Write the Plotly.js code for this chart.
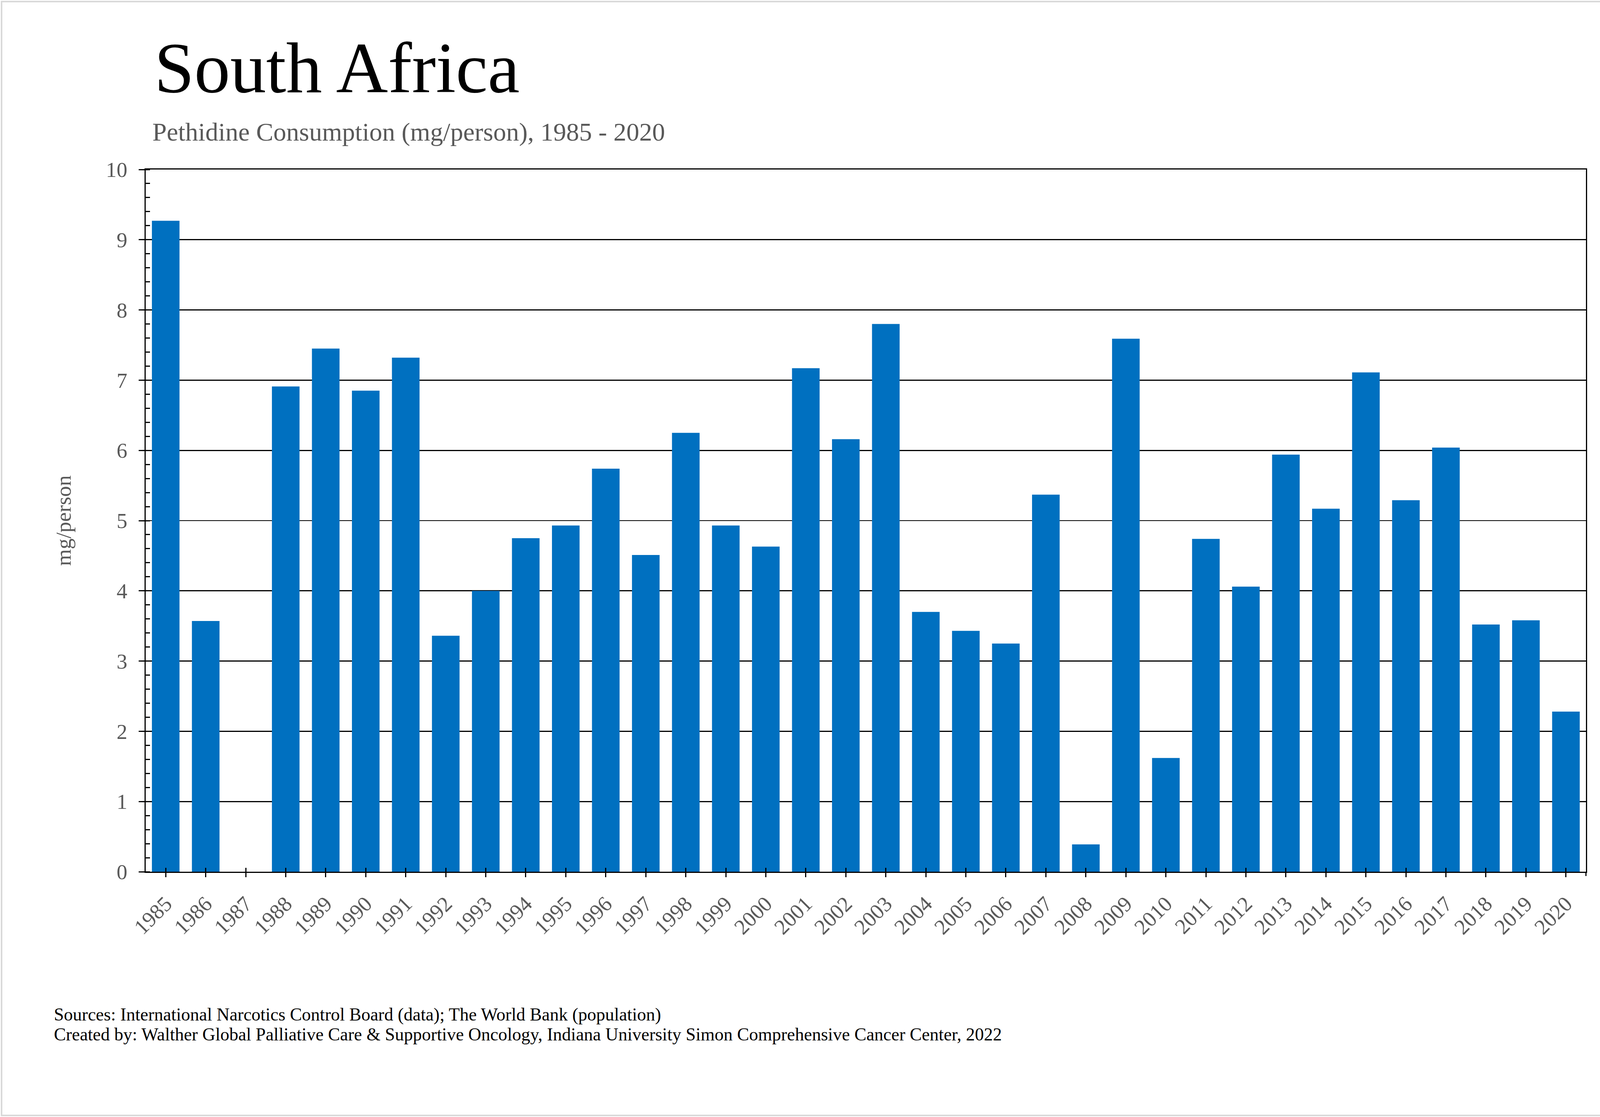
<!DOCTYPE html>
<html>
<head>
<meta charset="utf-8">
<script src="https://cdn.plot.ly/plotly-3.0.1.min.js"></script>
<style>
  html, body { margin: 0; padding: 0; background: #ffffff; }
  #wrap { position: relative; width: 4216px; height: 2860px; }
  #chart { position: absolute; left: 0; top: 0; width: 4216px; height: 2860px; }
  #frame { position: absolute; left: 2px; top: 2px; width: 4212px; height: 2856px;
           box-sizing: border-box; border: 4px solid #d9d9d9; pointer-events: none; }
</style>
</head>
<body>
<div id="wrap">
  <div id="chart"></div>
  <div id="frame"></div>
</div>
<script>
// ---- data ----
const years = ["1985","1986","1987","1988","1989","1990","1991","1992","1993","1994",
               "1995","1996","1997","1998","1999","2000","2001","2002","2003","2004",
               "2005","2006","2007","2008","2009","2010","2011","2012","2013","2014",
               "2015","2016","2017","2018","2019","2020"];
const pethidine = [9.27, 3.57, null, 6.91, 7.45, 6.85, 7.32, 3.36, 4.00, 4.75,
                   4.93, 5.74, 4.51, 6.25, 4.93, 4.63, 7.17, 6.16, 7.80, 3.70,
                   3.43, 3.25, 5.37, 0.39, 7.59, 1.62, 4.74, 4.06, 5.94, 5.17,
                   7.11, 5.29, 6.04, 3.52, 3.58, 2.28];
const yTicks = [0,1,2,3,4,5,6,7,8,9,10];

const titleText = "South Africa";
const subtitleText = "Pethidine Consumption (mg/person), 1985 - 2020";
const yTitleText = "mg/person";
const sourceText = "Sources: International Narcotics Control Board (data); The World Bank (population)";
const creditText = "Created by: Walther Global Palliative Care & Supportive Oncology, Indiana University Simon Comprehensive Cancer Center, 2022";

const FONT = "Liberation Serif, Times New Roman, serif";
const GRAY = "#595959";

const traces = [
  {
    type: "bar",
    x: years,
    y: pethidine,
    marker: { color: "#0070C0", line: { width: 0 } },
    hoverinfo: "x+y",
    xaxis: "x",
    yaxis: "y"
  },
  {
    // carrier for inside tick marks on the overlaid x axis
    type: "scatter",
    mode: "markers",
    x: years,
    y: pethidine,
    marker: { opacity: 0, size: 1 },
    hoverinfo: "skip",
    showlegend: false,
    xaxis: "x2",
    yaxis: "y"
  }
];

const layout = {
  width: 4216,
  height: 2860,
  paper_bgcolor: "#ffffff",
  plot_bgcolor: "#ffffff",
  showlegend: false,
  bargap: 0.31,
  margin: { l: 373, r: 156, t: 434, b: 628, pad: 0 },
  font: { family: FONT, color: GRAY, size: 55 },
  title: {
    text: titleText,
    font: { family: FONT, size: 184, color: "#000000" },
    x: 395 / 4216,
    xref: "container",
    xanchor: "left",
    y: 1 - 172 / 2860,
    yref: "container",
    yanchor: "middle"
  },
  xaxis: {
    type: "category",
    categoryorder: "array",
    categoryarray: years,
    range: [-0.5, years.length - 0.5],
    showline: true,
    linecolor: "#000000",
    linewidth: 3,
    mirror: true,
    showgrid: false,
    zeroline: false,
    ticks: "outside",
    ticklen: 11,
    tickwidth: 3,
    tickcolor: "#000000",
    tickangle: -45,
    ticklabelstandoff: 14,
    tickfont: { family: FONT, size: 55, color: GRAY },
    fixedrange: true
  },
  xaxis2: {
    type: "category",
    categoryorder: "array",
    categoryarray: years,
    range: [-0.5, years.length - 0.5],
    overlaying: "x",
    anchor: "y",
    side: "bottom",
    showline: false,
    showgrid: false,
    zeroline: false,
    ticks: "inside",
    ticklen: 10,
    tickwidth: 3,
    tickcolor: "#000000",
    showticklabels: false,
    fixedrange: true
  },
  yaxis: {
    range: [0, 10],
    tickvals: yTicks,
    ticktext: yTicks.map(String),
    showline: true,
    linecolor: "#000000",
    linewidth: 3,
    mirror: true,
    showgrid: true,
    gridcolor: "#000000",
    gridwidth: 2.8,
    zeroline: false,
    ticks: "outside",
    ticklen: 15,
    tickwidth: 3,
    tickcolor: "#000000",
    ticklabelstandoff: 18,
    tickfont: { family: FONT, size: 55, color: GRAY },
    minor: {
      dtick: 0.2,
      ticks: "inside",
      ticklen: 11,
      tickwidth: 3,
      tickcolor: "#000000",
      showgrid: false
    },
    title: {
      text: yTitleText,
      font: { family: FONT, size: 55, color: GRAY },
      standoff: 72
    },
    fixedrange: true
  },
  shapes: [
    {
      type: "line",
      xref: "paper", yref: "paper",
      x0: 1, x1: 1, y0: 0, y1: -11 / 1798,
      line: { color: "#000000", width: 3 }
    }
  ],
  annotations: [
    {
      text: subtitleText,
      xref: "paper", yref: "paper",
      x: (388 - 373) / 3687, y: (2232 - 338) / 1798,
      xanchor: "left", yanchor: "middle",
      showarrow: false,
      font: { family: FONT, size: 66, color: GRAY }
    },
    {
      text: sourceText,
      xref: "paper", yref: "paper",
      x: (136 - 373) / 3687, y: (2232 - 2597) / 1798,
      xanchor: "left", yanchor: "middle",
      showarrow: false,
      font: { family: FONT, size: 46, color: "#000000" }
    },
    {
      text: creditText,
      xref: "paper", yref: "paper",
      x: (136 - 373) / 3687, y: (2232 - 2648) / 1798,
      xanchor: "left", yanchor: "middle",
      showarrow: false,
      font: { family: FONT, size: 46, color: "#000000" }
    }
  ]
};

Plotly.newPlot("chart", traces, layout, { staticPlot: true, displayModeBar: false });
</script>
</body>
</html>
